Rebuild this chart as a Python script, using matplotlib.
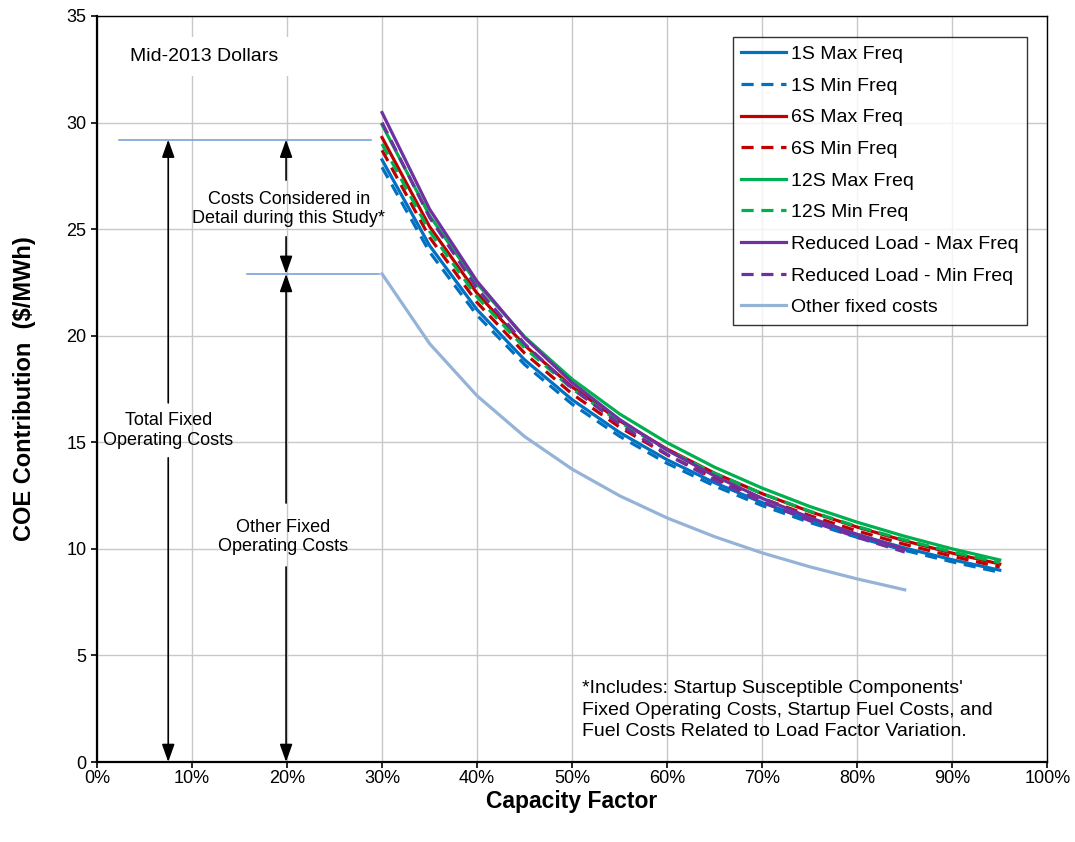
import matplotlib.pyplot as plt
from matplotlib.ticker import FuncFormatter

plt.rcParams['font.family'] = ['Liberation Sans', 'DejaVu Sans']

# capacity factor (%) at which each case was evaluated
cf = [30, 35, 40, 45, 50, 55, 60, 65, 70, 75, 80, 85, 90, 95]
cf_short = cf[:12]  # reduced load + other fixed stop at 85%

# COE contribution, $/MWh
s1_max = [28.25, 24.23, 21.22, 18.87, 17.00, 15.46, 14.18, 13.10, 12.17, 11.37, 10.67, 10.04, 9.49, 9.00]
s1_min = [27.90, 23.93, 20.96, 18.65, 16.79, 15.28, 14.01, 12.95, 12.03, 11.24, 10.54, 9.93, 9.39, 8.90]
s6_max = [29.30, 25.12, 21.99, 19.55, 17.60, 16.01, 14.68, 13.55, 12.59, 11.75, 11.02, 10.38, 9.80, 9.29]
s6_min = [28.70, 24.62, 21.56, 19.18, 17.27, 15.71, 14.41, 13.31, 12.37, 11.56, 10.84, 10.21, 9.65, 9.15]
s12_max = [29.90, 25.64, 22.44, 19.95, 17.96, 16.33, 14.98, 13.83, 12.85, 11.99, 11.25, 10.59, 10.00, 9.48]
s12_min = [29.00, 24.90, 21.82, 19.43, 17.51, 15.95, 14.64, 13.54, 12.59, 11.77, 11.05, 10.42, 9.85, 9.35]
rl_max = [30.47, 25.94, 22.55, 19.91, 17.80, 16.07, 14.63, 13.42, 12.37, 11.47, 10.68, 9.98]
rl_min = [30.00, 25.55, 22.22, 19.62, 17.54, 15.85, 14.43, 13.23, 12.21, 11.32, 10.54, 9.85]
other_fixed = [22.90, 19.63, 17.18, 15.27, 13.74, 12.49, 11.45, 10.57, 9.81, 9.16, 8.59, 8.08]

total_fixed_level = 29.2
other_fixed_level = 22.9

blue = '#0070C0'
red = '#C00000'
green = '#00B050'
purple = '#7030A0'
steel = '#95B3D7'
ref_line = '#6F9AD3'

fig = plt.figure(figsize=(10.75, 8.42), dpi=100)
ax = fig.add_axes([0.0902, 0.095, 0.884, 0.886])

lw = 2.3
dash = (0, (3.8, 2.4))
ax.plot(cf, s1_max, color=blue, lw=lw, label='1S Max Freq')
ax.plot(cf, s1_min, color=blue, lw=lw, ls=dash, label='1S Min Freq')
ax.plot(cf, s6_max, color=red, lw=lw, label='6S Max Freq')
ax.plot(cf, s6_min, color=red, lw=lw, ls=dash, label='6S Min Freq')
ax.plot(cf, s12_max, color=green, lw=lw, label='12S Max Freq')
ax.plot(cf, s12_min, color=green, lw=lw, ls=dash, label='12S Min Freq')
ax.plot(cf_short, rl_max, color=purple, lw=lw, label='Reduced Load - Max Freq')
ax.plot(cf_short, rl_min, color=purple, lw=lw, ls=dash, label='Reduced Load - Min Freq')
ax.plot(cf_short, other_fixed, color=steel, lw=lw, label='Other fixed costs')

# reference levels for the bracket arrows
ax.plot([2.3, 28.8], [total_fixed_level] * 2, color=ref_line, lw=1.1)
ax.plot([15.8, 29.7], [other_fixed_level] * 2, color=ref_line, lw=1.1)


def arrow(x, y_from, y_to):
    ax.annotate('', xy=(x, y_to), xytext=(x, y_from),
                arrowprops=dict(arrowstyle='-|>,head_length=0.9,head_width=0.32',
                                mutation_scale=12, color='black', lw=1.2,
                                shrinkA=0, shrinkB=0))


fs = 14
fs_bracket = 13

# total fixed operating costs
arrow(7.5, 16.85, total_fixed_level)
arrow(7.5, 14.27, 0)
ax.text(7.5, 15.55, 'Total Fixed\nOperating Costs', ha='center', va='center',
        fontsize=fs_bracket, linespacing=1.2)

# costs considered in this study
arrow(19.9, 27.3, total_fixed_level)
arrow(19.9, 24.64, other_fixed_level)
ax.text(20.2, 25.95, 'Costs Considered in\nDetail during this Study*', ha='center',
        va='center', fontsize=fs_bracket, linespacing=1.2)

# other fixed operating costs
arrow(19.9, 12.15, other_fixed_level)
arrow(19.9, 9.15, 0)
ax.text(19.6, 10.55, 'Other Fixed\nOperating Costs', ha='center', va='center',
        fontsize=fs_bracket, linespacing=1.2)

ax.text(3.5, 33.1, 'Mid-2013 Dollars', ha='left', va='center', fontsize=fs,
        bbox=dict(facecolor='white', edgecolor='none', pad=8))

ax.text(51, 2.44, "*Includes: Startup Susceptible Components'\n"
        "Fixed Operating Costs, Startup Fuel Costs, and\n"
        "Fuel Costs Related to Load Factor Variation.",
        ha='left', va='center', fontsize=fs, linespacing=1.38)

ax.set_xlim(0, 100)
ax.set_ylim(0, 35)
ax.set_xticks(range(0, 101, 10))
ax.set_yticks(range(0, 36, 5))
ax.xaxis.set_major_formatter(FuncFormatter(lambda v, p: f'{v:.0f}%'))
ax.tick_params(labelsize=13, direction='out', length=4, width=1.2, colors='black')
ax.tick_params(axis='x', pad=2)
ax.grid(True, color='#C8C8C8', lw=1.0)
ax.set_axisbelow(True)
for side in ['left', 'bottom']:
    ax.spines[side].set_linewidth(1.6)
for side in ['top', 'right']:
    ax.spines[side].set_linewidth(1.0)

ax.set_xlabel('Capacity Factor', fontsize=16.5, fontweight='bold', labelpad=2)
ax.set_ylabel('COE Contribution  ($/MWh)', fontsize=17, fontweight='bold', labelpad=22)

leg = ax.legend(loc='upper right', bbox_to_anchor=(0.979, 0.972), borderaxespad=0,
                fontsize=fs, frameon=True, fancybox=False, edgecolor='black',
                handlelength=2.3, handletextpad=0.25, labelspacing=0.72,
                borderpad=0.45)
leg.get_frame().set_linewidth(1.0)

fig.savefig('out.png', dpi=100)
